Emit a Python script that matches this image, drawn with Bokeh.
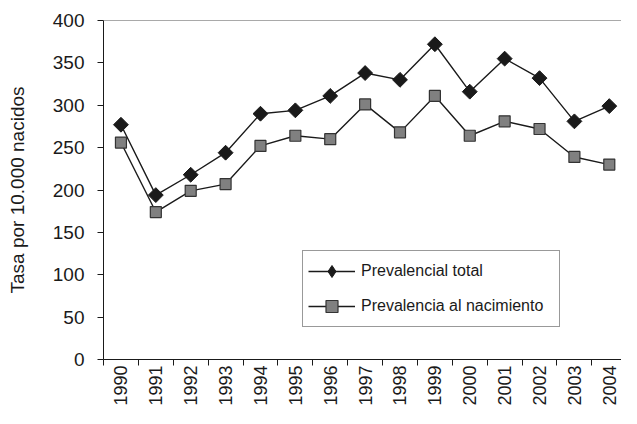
import math
from bokeh.plotting import figure
from bokeh.models import FixedTicker, Span, Legend, LegendItem, Range1d
from bokeh.embed import file_html
from bokeh.resources import INLINE

years = [1990, 1991, 1992, 1993, 1994, 1995, 1996, 1997, 1998, 1999, 2000, 2001, 2002, 2003, 2004]
prevalencia_total = [277, 194, 218, 244, 290, 294, 311, 338, 330, 372, 316, 355, 332, 281, 299]
prevalencia_nacimiento = [256, 174, 199, 207, 252, 264, 260, 301, 268, 311, 264, 281, 272, 239, 230]
y_ticks = [0, 50, 100, 150, 200, 250, 300, 350, 400]
y_label = "Tasa por 10.000 nacidos"
series_names = ["Prevalencial total", "Prevalencia al nacimiento"]

FONT = "Liberation Sans"

p = figure(width=621, height=408, output_backend="svg", toolbar_location=None,
           x_range=Range1d(years[0] - 0.5, years[-1] + 0.35),
           y_range=Range1d(0, 400),
           min_border_left=103, min_border_right=0, min_border_top=20, min_border_bottom=49)
p.outline_line_color = None
p.grid.grid_line_color = None
p.background_fill_color = "white"
p.border_fill_color = "white"

# top border line
p.add_layout(Span(location=400, dimension="width", line_color="#555555", line_width=1.2))

l1 = p.line(years, prevalencia_total, line_color="#1a1a1a", line_width=1.4)
d1 = p.scatter(years, prevalencia_total, marker="diamond", size=12,
               fill_color="#1a1a1a", line_color="#1a1a1a")
m1 = p.scatter(years, prevalencia_total, marker="square", angle=math.pi / 4, size=10.5,
               fill_color="#1a1a1a", line_color="#1a1a1a")
l2 = p.line(years, prevalencia_nacimiento, line_color="#1a1a1a", line_width=1.4)
m2 = p.scatter(years, prevalencia_nacimiento, marker="square", size=11,
               fill_color="#808080", line_color="#333333", line_width=1.2)

boundaries = [y - 0.5 for y in years]
xa = p.xaxis[0]
xa.ticker = FixedTicker(ticks=years, minor_ticks=boundaries)
xa.major_tick_line_color = None
xa.minor_tick_out = 6
xa.minor_tick_in = 0
xa.minor_tick_line_color = "#1a1a1a"
xa.axis_line_color = "#1a1a1a"
xa.major_label_orientation = math.pi / 2
xa.major_label_text_font = FONT
xa.major_label_text_font_size = "18px"
xa.major_label_text_color = "#1a1a1a"
xa.major_label_standoff = 0

ya = p.yaxis[0]
ya.ticker = FixedTicker(ticks=y_ticks)
ya.major_tick_out = 6
ya.major_tick_in = 0
ya.minor_tick_line_color = None
ya.axis_line_color = "#1a1a1a"
ya.major_tick_line_color = "#1a1a1a"
ya.major_label_text_font = FONT
ya.major_label_text_font_size = "19px"
ya.major_label_text_color = "#1a1a1a"
ya.major_label_standoff = 13
ya.axis_label = y_label
ya.axis_label_text_font = FONT
ya.axis_label_text_font_size = "19px"
ya.axis_label_text_font_style = "normal"
ya.axis_label_text_color = "#1a1a1a"
ya.axis_label_standoff = 22

legend = Legend(items=[LegendItem(label=series_names[0], renderers=[l1, d1]),
                       LegendItem(label=series_names[1], renderers=[l2, m2])],
                location=(199, 32), orientation="vertical",
                glyph_width=47, glyph_height=30, label_height=20, label_width=193,
                label_standoff=6, padding=5, spacing=5, margin=0,
                label_text_font=FONT, label_text_font_size="16px", label_text_color="#1a1a1a",
                border_line_color="#333333", border_line_width=1.2,
                background_fill_color="white", background_fill_alpha=1.0)
p.add_layout(legend, "center")

open("out.html", "w").write(file_html(p, INLINE))
